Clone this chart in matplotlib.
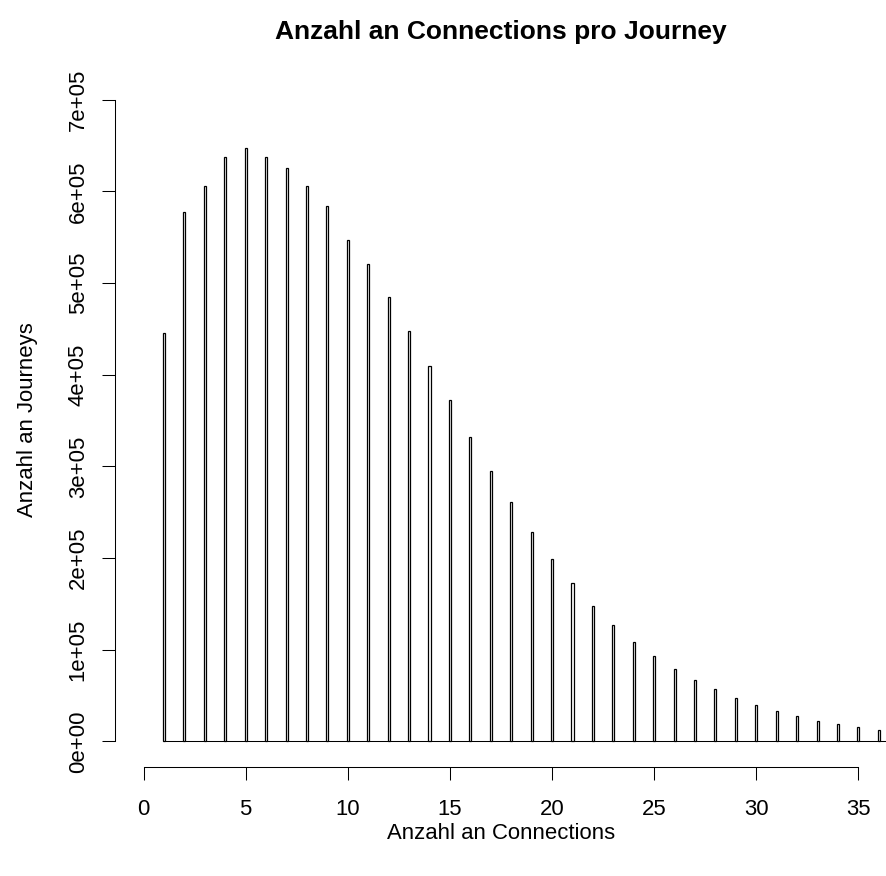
import matplotlib
matplotlib.use("Agg")
import matplotlib.pyplot as plt
import numpy as np

plt.rcParams["font.family"] = ["Liberation Sans", "DejaVu Sans"]

# Anzahl an Connections (1..36) und Anzahl an Journeys
connections = np.arange(1, 37)
journeys = [
    445900, 577700, 605300, 637000, 647300, 637000, 625000, 605300, 583900,
    547100, 520200, 485200, 448100, 409200, 372400, 332400, 295200, 261000,
    228600, 199100, 172200, 147800, 127000, 108900, 92800, 78600, 67000,
    56700, 47300, 39300, 32800, 27600, 22600, 18600, 15600, 12800,
]
y_ticks = [0, 100000, 200000, 300000, 400000, 500000, 600000, 700000]
y_ticklabels = ["0e+00", "1e+05", "2e+05", "3e+05", "4e+05", "5e+05", "6e+05", "7e+05"]
x_ticks = [0, 5, 10, 15, 20, 25, 30, 35]

W, H = 887, 876
fig = plt.figure(figsize=(W / 100, H / 100), dpi=100)
# plot region in pixels: left 115, right 887, top 74, bottom 767
ax = fig.add_axes([115 / W, (H - 767) / H, 772 / W, 693 / H])

bar_w = 0.1
ax.bar(connections, journeys, width=bar_w, facecolor="white",
       edgecolor="black", linewidth=0.9, zorder=3)
ax.hlines(0, connections[0] - bar_w / 2, connections[-1] + 5,
          color="black", linewidth=0.75, zorder=2)

ax.set_xlim(-1.4, 36.4)
ax.set_ylim(-28000, 728000)

for s in ["top", "right"]:
    ax.spines[s].set_visible(False)
ax.spines["left"].set_bounds(0, 700000)
ax.spines["bottom"].set_bounds(0, 35)
ax.spines["left"].set_linewidth(0.75)
ax.spines["bottom"].set_linewidth(0.75)

ax.set_xticks(x_ticks)
ax.set_yticks(y_ticks)
ax.set_yticklabels(y_ticklabels, rotation=90, va="center")
ax.tick_params(axis="x", length=9.4, width=0.75, pad=13.5, labelsize=15.9)
ax.tick_params(axis="y", length=9.4, width=0.75, pad=9.5, labelsize=15.9)

fig.text(501 / W, 1 - 39 / H, "Anzahl an Connections pro Journey",
         ha="center", va="baseline", fontsize=19, fontweight="bold")
fig.text(501 / W, 1 - 839 / H, "Anzahl an Connections",
         ha="center", va="baseline", fontsize=15.9)
fig.text(33 / W, (H - 420) / H, "Anzahl an Journeys",
         ha="center", va="baseline", rotation=90, rotation_mode="anchor",
         fontsize=15.9)

fig.savefig("out.png", dpi=100)
